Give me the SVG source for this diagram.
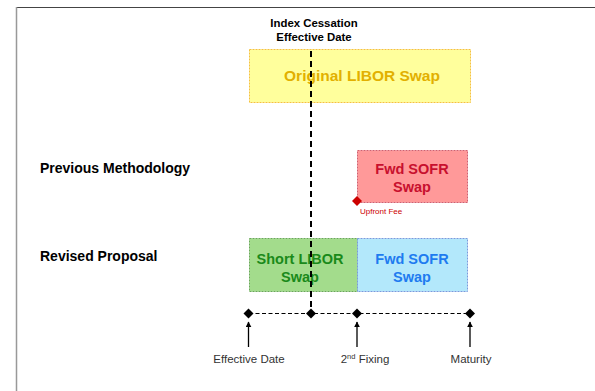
<svg xmlns="http://www.w3.org/2000/svg" width="595" height="391" viewBox="0 0 595 391">
<defs>
<style>
.bx{stroke-width:1;stroke-dasharray:2,1}
.t{font-family:"Liberation Sans",Arial,sans-serif;font-weight:bold}
.n{font-family:"Liberation Sans",Arial,sans-serif}
.dia{fill:#000}
</style>
<marker id="ah" viewBox="0 0 10 10" refX="9" refY="5" markerWidth="6" markerHeight="6" orient="auto" markerUnits="userSpaceOnUse">
<path d="M0,0 L10,5 L0,10 z" fill="#000"/>
</marker>
</defs>
<rect width="595" height="391" fill="#fff"/>
<line x1="16" y1="7.5" x2="595" y2="7.5" stroke="#444" stroke-width="1"/>
<line x1="16.5" y1="7" x2="16.5" y2="391" stroke="#999" stroke-width="1.5"/>

<g id="labels">
<text class="t" x="314" y="27" font-size="11.4" text-anchor="middle" fill="#000">Index Cessation</text>
<text class="t" x="314" y="41" font-size="11.4" text-anchor="middle" fill="#000">Effective Date</text>
<text class="t" x="40" y="173" font-size="14" fill="#000">Previous Methodology</text>
<text class="t" x="40" y="261" font-size="14" fill="#000">Revised Proposal</text>
</g>

<g id="original-libor">
<rect class="bx" x="249.5" y="49.5" width="221" height="53" fill="#ffff9c" stroke="#f5c040"/>
<text class="t" x="362" y="81" font-size="15.5" text-anchor="middle" fill="#e2b000">Original LIBOR Swap</text>
</g>

<g id="fwd-sofr-prev">
<rect class="bx" x="357.5" y="150.5" width="110" height="52" fill="#ff9999" stroke="#d06070"/>
<text class="t" x="412" y="174" font-size="14.5" text-anchor="middle" fill="#c8102e">Fwd SOFR</text>
<text class="t" x="412" y="192" font-size="14.5" text-anchor="middle" fill="#c8102e">Swap</text>
<path d="M357,196 L362,201 L357,206 L352,201 z" fill="#cc0000"/>
<text class="n" x="360" y="214" font-size="8" fill="#cc0000">Upfront Fee</text>
</g>

<g id="short-libor">
<rect class="bx" x="249.5" y="238.5" width="108" height="53" fill="#a3dc8c" stroke="#6aa85a"/>
<text class="t" x="300" y="264" font-size="14.5" text-anchor="middle" fill="#1a8a1a">Short LIBOR</text>
<text class="t" x="300" y="282" font-size="14.5" text-anchor="middle" fill="#1a8a1a">Swap</text>
</g>

<g id="fwd-sofr-rev">
<rect class="bx" x="357.5" y="238.5" width="110" height="53" fill="#b3e8fb" stroke="#7a9adc"/>
<text class="t" x="412" y="264" font-size="14.5" text-anchor="middle" fill="#1e7bf0">Fwd SOFR</text>
<text class="t" x="412" y="282" font-size="14.5" text-anchor="middle" fill="#1e7bf0">Swap</text>
</g>

<g id="connectors">
<line x1="311" y1="51" x2="311" y2="312" stroke="#000" stroke-width="2" stroke-dasharray="6,4"/>
<line x1="249" y1="313.5" x2="470" y2="313.5" stroke="#000" stroke-width="1.2" stroke-dasharray="4,2.5"/>
<line x1="248.5" y1="347" x2="248.5" y2="322" stroke="#000" stroke-width="1.3" marker-end="url(#ah)"/>
<line x1="357" y1="347" x2="357" y2="322" stroke="#000" stroke-width="1.3" marker-end="url(#ah)"/>
<line x1="470" y1="347" x2="470" y2="322" stroke="#000" stroke-width="1.3" marker-end="url(#ah)"/>
</g>

<g id="tl-diamonds">
<path class="dia" d="M248.5,308.5 L253.5,313.5 L248.5,318.5 L243.5,313.5 z"/>
<path class="dia" d="M311,308.5 L316,313.5 L311,318.5 L306,313.5 z"/>
<path class="dia" d="M357,308.5 L362,313.5 L357,318.5 L352,313.5 z"/>
<path class="dia" d="M470,308.5 L475,313.5 L470,318.5 L465,313.5 z"/>
</g>

<g id="tl-labels">
<text class="n" x="249" y="363" font-size="11.5" text-anchor="middle" fill="#333">Effective Date</text>
<text class="n" x="365" y="363" font-size="11.5" text-anchor="middle" fill="#333">2<tspan font-size="7.5" dy="-4">nd</tspan><tspan dy="4"> Fixing</tspan></text>
<text class="n" x="471" y="363" font-size="11.5" text-anchor="middle" fill="#333">Maturity</text>
</g>
</svg>
